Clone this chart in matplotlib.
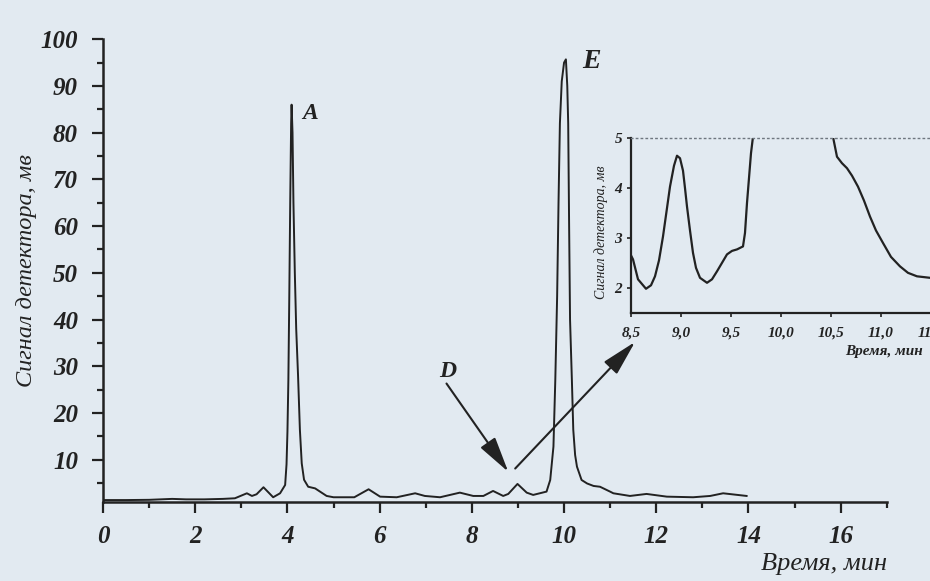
import numpy as np
import matplotlib.pyplot as plt
from matplotlib.ticker import FixedLocator

plt.rcParams['font.family'] = ['Liberation Serif', 'DejaVu Serif']
plt.rcParams['font.weight'] = 'bold'
plt.rcParams['font.style'] = 'italic'

# Хроматограмма: время (мин) и сигнал детектора (мВ)
time = [0.0, 0.5, 1.0, 1.5, 1.8, 2.2, 2.6, 2.86, 3.12, 3.23, 3.33, 3.48, 3.69, 3.84,
        3.95, 3.98, 4.0, 4.02, 4.04, 4.06, 4.08, 4.09, 4.11, 4.13, 4.16, 4.19, 4.23,
        4.27, 4.31, 4.36, 4.45, 4.6, 4.85, 5.0, 5.45, 5.76, 6.01, 6.37, 6.77, 6.98,
        7.31, 7.74, 8.03, 8.25, 8.46, 8.68, 8.79, 8.99, 9.19, 9.33, 9.62, 9.70, 9.77,
        9.81, 9.85, 9.88, 9.91, 9.95, 10.0, 10.04, 10.07, 10.09, 10.11, 10.13, 10.17,
        10.20, 10.24, 10.28, 10.38, 10.5, 10.64, 10.78, 11.0, 11.07, 11.43, 11.79,
        12.23, 12.8, 13.17, 13.45, 13.96]
signal = [1.35, 1.35, 1.4, 1.6, 1.5, 1.5, 1.6, 1.73, 2.8, 2.23, 2.59, 4.09, 1.95, 2.8,
          4.58, 9.0, 16.0, 27.0, 45.0, 65.0, 82.0, 86.0, 80.0, 65.0, 50.0, 38.0, 28.0,
          16.4, 9.2, 5.7, 4.2, 3.85, 2.23, 1.95, 1.95, 3.66, 2.08, 1.95, 2.8, 2.23,
          1.95, 2.94, 2.23, 2.23, 3.3, 2.23, 2.66, 4.8, 2.94, 2.45, 3.16, 5.65, 12.8,
          27.0, 45.0, 65.0, 82.0, 91.0, 95.0, 95.7, 90.0, 82.0, 60.0, 40.0, 27.0,
          16.4, 11.0, 8.5, 5.65, 4.9, 4.37, 4.2, 3.15, 2.8, 2.23, 2.66,
          2.08, 1.95, 2.23, 2.8, 2.23]

# Врезка: участок 8,5–11,5 мин
inset_time = [8.5, 8.52, 8.57, 8.65, 8.70, 8.74, 8.78, 8.82, 8.86, 8.89, 8.93, 8.96,
              8.99, 9.02, 9.04, 9.06, 9.09, 9.12, 9.15, 9.19, 9.26, 9.31, 9.36, 9.41,
              9.46, 9.51, 9.56, 9.62, 9.64, 9.66, 9.68, 9.70, 9.72, 9.75, 10.04,
              10.47, 10.52, 10.56, 10.61, 10.66, 10.71, 10.77, 10.83, 10.89, 10.95,
              11.02, 11.10, 11.19, 11.27, 11.36, 11.49]
inset_signal = [2.65, 2.57, 2.17, 1.98, 2.05, 2.23, 2.55, 3.03, 3.6, 4.03, 4.45, 4.65,
                4.6, 4.35, 4.0, 3.63, 3.15, 2.7, 2.4, 2.2, 2.1, 2.17, 2.33, 2.5,
                2.67, 2.74, 2.77, 2.83, 3.1, 3.7, 4.2, 4.7, 5.03, 6.5, 95.7,
                6.0, 5.03, 4.63, 4.5, 4.4, 4.25, 4.03, 3.75, 3.43, 3.15,
                2.9, 2.62, 2.43, 2.3, 2.23, 2.2]

x_major = [0, 2, 4, 6, 8, 10, 12, 14, 16]
x_minor = [1, 3, 5, 7, 9, 11, 13, 15, 17]
y_major = [10, 20, 30, 40, 50, 60, 70, 80, 90, 100]
y_minor = [5, 15, 25, 35, 45, 55, 65, 75, 85, 95]
inset_xticks = [8.5, 9.0, 9.5, 10.0, 10.5, 11.0, 11.5]
inset_xlabels = ['8,5', '9,0', '9,5', '10,0', '10,5', '11,0', '11,5']
inset_yticks = [2, 3, 4, 5]

bg = '#e2eaf1'
ink = '#222222'

fig = plt.figure(figsize=(9.3, 5.81), dpi=100, facecolor=bg)
ax = fig.add_axes([0.1108, 0.1365, 0.8427, 0.7959])
ax.set_facecolor(bg)

ax.plot(time, signal, color=ink, lw=1.4)

ax.set_xlim(0, 17)
ax.set_ylim(1, 100)
ax.xaxis.set_major_locator(FixedLocator(x_major))
ax.xaxis.set_minor_locator(FixedLocator(x_minor))
ax.yaxis.set_major_locator(FixedLocator(y_major))
ax.yaxis.set_minor_locator(FixedLocator(y_minor))
for s in ['top', 'right']:
    ax.spines[s].set_visible(False)
for s in ['left', 'bottom']:
    ax.spines[s].set_linewidth(1.8)
    ax.spines[s].set_color(ink)
ax.tick_params(which='major', length=8, width=1.6, color=ink, labelsize=18,
               labelcolor=ink)
ax.tick_params(which='minor', length=4.5, width=1.6, color=ink)
ax.tick_params(axis='x', which='major', pad=9)
ax.tick_params(axis='y', which='major', pad=10)

ax.set_ylabel('Сигнал детектора, мв', fontsize=17.5, color=ink)
ax.yaxis.set_label_coords(-0.084, 0.5)
ax.set_xlabel('Время, мин', fontsize=19, color=ink, loc='right')
ax.xaxis.set_label_coords(1.0, -0.112)

# подписи пиков
ax.text(4.49, 84.2, 'A', fontsize=17, color=ink, ha='center', va='center')
ax.text(10.59, 95.2, 'E', fontsize=20, color=ink, ha='center', va='center')
ax.text(7.48, 28.8, 'D', fontsize=17, color=ink, ha='center', va='center')

arrow = dict(arrowstyle='-|>,head_length=1.0,head_width=0.25', color=ink, lw=1.5,
             mutation_scale=22, shrinkA=0, shrinkB=0)
ax.annotate('', xy=(8.79, 7.4), xytext=(7.45, 26.3), arrowprops=arrow)
ax.annotate('', xy=(11.54, 35.2), xytext=(8.94, 8.1), arrowprops=arrow)

# врезка
axi = fig.add_axes([0.6785, 0.4618, 0.3548, 0.3002])
axi.patch.set_alpha(0)
axi.plot(inset_time, inset_signal, color=ink, lw=1.6)
axi.set_xlim(8.5, 11.8)
axi.set_ylim(1.5, 5)
axi.set_xticks(inset_xticks)
axi.set_xticklabels(inset_xlabels)
axi.set_yticks(inset_yticks)
axi.spines['right'].set_visible(False)
axi.spines['top'].set_linestyle((0, (1, 2.5)))
axi.spines['top'].set_color('#6f7780')
axi.spines['top'].set_linewidth(1.0)
for s in ['left', 'bottom']:
    axi.spines[s].set_linewidth(1.6)
    axi.spines[s].set_color(ink)
axi.tick_params(length=3, width=1.2, color=ink, labelsize=11, labelcolor=ink)
axi.tick_params(axis='x', pad=7)
axi.set_ylabel('Сигнал детектора, мв', fontsize=10, color=ink)
axi.yaxis.set_label_coords(-0.07, 0.46)
axi.text(0.648, -0.224, 'Время, мин', transform=axi.transAxes, fontsize=11,
         color=ink, ha='left', va='center')

fig.savefig('out.png', dpi=100, facecolor=bg)
